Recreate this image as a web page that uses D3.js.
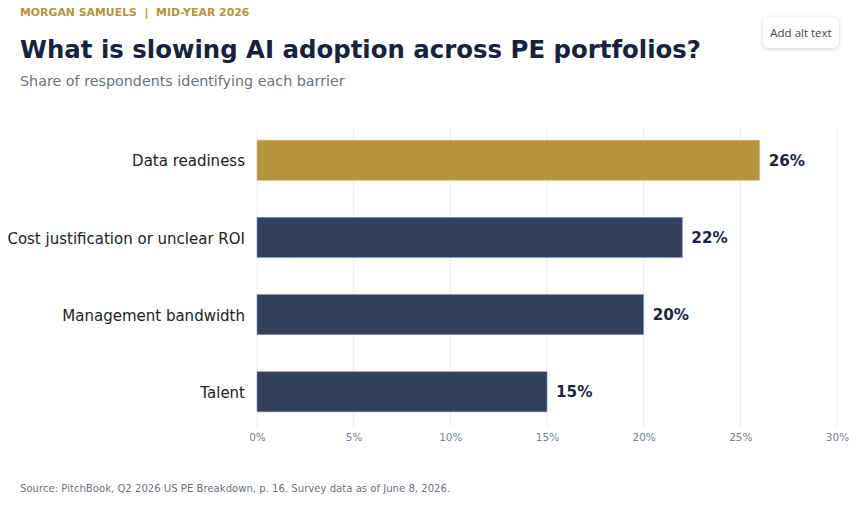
<!DOCTYPE html>
<html>
<head>
<meta charset="utf-8">
<script src="https://cdn.jsdelivr.net/npm/d3@7"></script>
<style>
  body { margin: 0; background: #fff; font-family: "DejaVu Sans", sans-serif; }
  #chart { position: relative; width: 857px; height: 507px; }
  .alt-btn {
    position: absolute; left: 763px; top: 17px; width: 76px; height: 31px;
    background: #fff; border-radius: 5px; box-shadow: 0 1px 4px rgba(0,0,0,0.18);
    font-family: "Open Sans", sans-serif; font-size: 11.5px; color: #444;
    display: flex; align-items: center; justify-content: center;
  }
</style>
</head>
<body>
<div id="chart"></div>
<script>
// Barriers, top to bottom
const categories = ["Data readiness", "Cost justification or unclear ROI", "Management bandwidth", "Talent"];
const values = [26, 22, 20, 15];
const xTicks = [0, 5, 10, 15, 20, 25, 30];

const W = 857, H = 507;
const margin = { top: 127, right: 20, bottom: 82, left: 257 };

const svg = d3.select("#chart")
  .append("svg")
    .attr("width", W)
    .attr("height", H);

// Header texts
svg.append("text")
  .attr("x", 20).attr("y", 16)
  .style("font-size", "10.9px").style("font-weight", "bold")
  .attr("fill", "#b5953a")
  .attr("xml:space", "preserve")
  .text("MORGAN SAMUELS  |  MID-YEAR 2026");

svg.append("text")
  .attr("x", 20).attr("y", 58)
  .style("font-size", "24.4px").style("font-weight", "bold")
  .attr("fill", "#17223b")
  .text("What is slowing AI adoption across PE portfolios?");

svg.append("text")
  .attr("x", 20).attr("y", 86)
  .style("font-size", "14.3px")
  .attr("fill", "#6b7280")
  .text("Share of respondents identifying each barrier");

const x = d3.scaleLinear()
  .domain([0, 30])
  .range([margin.left, W - margin.right]);

const y = d3.scaleBand()
  .domain(categories)
  .range([margin.top, 425])
  .paddingInner(0.48)
  .paddingOuter(0.17);

// Grid lines
svg.append("g")
  .selectAll("line")
  .data(xTicks)
  .join("line")
    .attr("x1", d => x(d)).attr("x2", d => x(d))
    .attr("y1", margin.top).attr("y2", 427)
    .attr("stroke", "#ececf0")
    .attr("stroke-width", 1);

// X axis labels
const xAxis = svg.append("g")
  .attr("transform", `translate(0,427)`)
  .call(d3.axisBottom(x).tickValues(xTicks).tickSize(0).tickPadding(7).tickFormat(d => d + "%"));
xAxis.select(".domain").remove();
xAxis.selectAll("text")
  .style("font-family", "DejaVu Sans, sans-serif")
  .style("font-size", "10.5px")
  .attr("fill", "#7a8090");

// Category labels
svg.append("g")
  .selectAll("text")
  .data(categories)
  .join("text")
    .attr("x", margin.left - 12)
    .attr("y", d => y(d) + y.bandwidth() / 2 + 1)
    .attr("dy", "0.35em")
    .attr("text-anchor", "end")
    .style("font-size", "15px")
    .attr("fill", "#222")
    .text(d => d);

// Bars
svg.append("g")
  .selectAll("rect")
  .data(categories)
  .join("rect")
    .attr("x", x(0))
    .attr("y", d => y(d))
    .attr("width", (d, i) => x(values[i]) - x(0))
    .attr("height", y.bandwidth())
    .attr("fill", (d, i) => i === 0 ? "#b5953a" : "#31415e")
    .attr("stroke", (d, i) => i === 0 ? "#d7c07a" : "#8a94a8")
    .attr("stroke-width", 0.6);

// Value labels
svg.append("g")
  .selectAll("text")
  .data(categories)
  .join("text")
    .attr("x", (d, i) => x(values[i]) + 9)
    .attr("y", d => y(d) + y.bandwidth() / 2)
    .attr("dy", "0.35em")
    .style("font-size", "15.2px").style("font-weight", "bold")
    .attr("fill", "#1c2540")
    .text((d, i) => values[i] + "%");

// Source
svg.append("text")
  .attr("x", 20).attr("y", 492)
  .style("font-size", "10.1px")
  .attr("fill", "#6b7280")
  .text("Source: PitchBook, Q2 2026 US PE Breakdown, p. 16. Survey data as of June 8, 2026.");

d3.select("#chart").append("div")
  .attr("class", "alt-btn")
  .text("Add alt text");
</script>
</body>
</html>
